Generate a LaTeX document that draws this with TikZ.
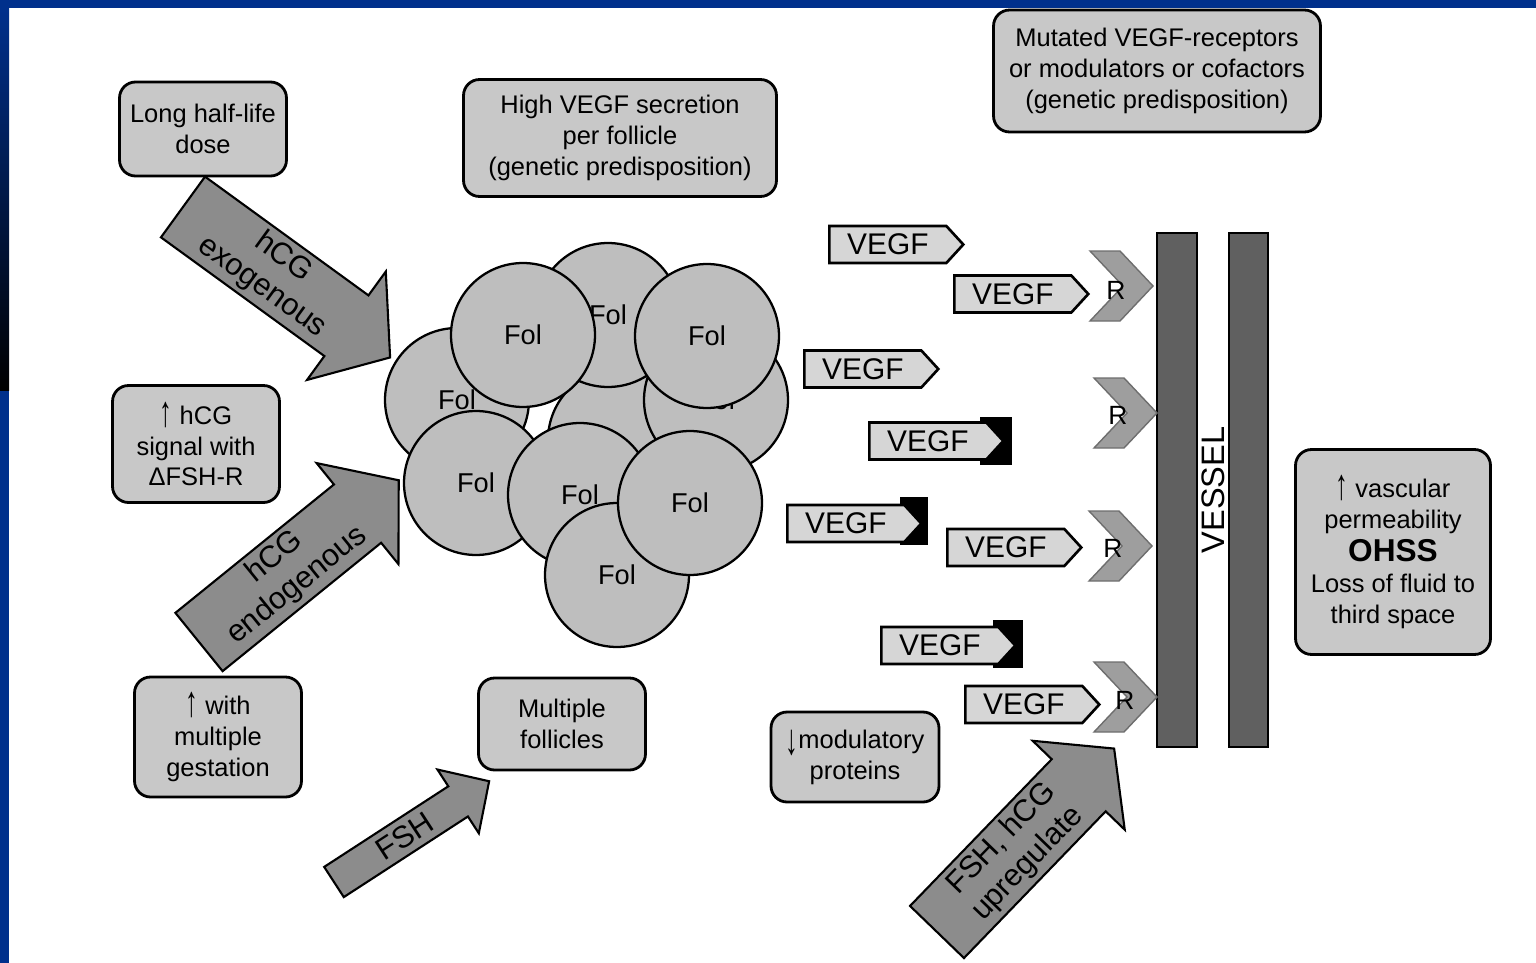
\documentclass[tikz,border=0pt]{standalone}
\usepackage{fontspec}
\setmainfont{Liberation Sans}
\usepackage{tikz}
\usetikzlibrary{shapes,shapes.symbols,positioning}

\definecolor{slideblue}{RGB}{0,48,140}
\definecolor{boxgray}{RGB}{200,200,200}
\definecolor{folgray}{RGB}{190,190,190}
\definecolor{armgray}{RGB}{140,140,140}
\definecolor{vegfgray}{RGB}{214,214,214}
\definecolor{recgray}{RGB}{158,158,158}
\definecolor{recedge}{RGB}{110,110,110}
\definecolor{wallgray}{RGB}{96,96,96}

% tall thin up/down arrows as in the figure
\newcommand{\upar}{\raisebox{-0.15ex}{\scalebox{1}[1.7]{↑}}}
\newcommand{\downar}{\raisebox{-0.45ex}{\scalebox{1}[1.7]{↓}}}

% block arrow: name, base, angle, length, shaft half width, head half width, head length, text
\newcommand{\fatarrow}[8]{%
  \begin{scope}[shift={#2}, rotate=#3]
    \draw[fat] (0,#5) -- ({#4-#7},#5) -- ({#4-#7},#6) -- (#4,0) -- ({#4-#7},-#6) -- ({#4-#7},-#5) -- (0,-#5) -- cycle;
    \node[armtext, rotate=#3] (#1) at ({(#4-#7)/2+10},0) {#8};
  \end{scope}}

\begin{document}
\begin{tikzpicture}[x=0.02cm, y=-0.02cm]
  % styles
  \tikzstyle{factor}=[rectangle, rounded corners=0.32cm, draw=black, fill=boxgray, line width=1.6pt, align=center, inner sep=2pt, font=\fontsize{14.5}{17.6}\selectfont]
  \tikzstyle{follicle}=[circle, draw=black, fill=folgray, line width=1.3pt, minimum size=2.88cm, inner sep=0pt, font=\fontsize{15.5}{16}\selectfont]
  \tikzstyle{vegf}=[signal, signal to=east, signal pointer angle=95, draw=black, fill=vegfgray, line width=1.5pt, minimum width=2.68cm, minimum height=0.74cm, inner sep=0pt, anchor=west, font=\fontsize{17}{17}\selectfont]
  \tikzstyle{tipblock}=[fill=black]
  \tikzstyle{receptor}=[draw=recedge, fill=recgray, line width=0.8pt, line join=miter]
  \tikzstyle{rlabel}=[inner sep=0pt, font=\fontsize{15}{15}\selectfont]
  \tikzstyle{wall}=[rectangle, draw=black, fill=wallgray, line width=1.2pt, minimum height=10.28cm, inner sep=0pt]
  \tikzstyle{fat}=[draw=black, fill=armgray, line width=1.2pt, line join=miter]
  \tikzstyle{armtext}=[align=center, inner sep=0pt, font=\fontsize{17.5}{20.5}\selectfont]

  \useasboundingbox (0,0) rectangle (1536,963);
  \fill[white] (0,0) rectangle (1536,963);
  \fill[slideblue] (0,0) rectangle (1536,8);
  \fill[slideblue] (0,0) rectangle (9,963);
  \shade[top color=slideblue, bottom color=black] (0,8) rectangle (9,390);

  % factors
  \node[factor, minimum width=3.34cm, minimum height=1.88cm] (halflife) at (203,129) {Long half-life\\dose};
  \node[factor, minimum width=6.26cm, minimum height=2.34cm] (secretion) at (620,138) {High VEGF secretion\\per follicle\\(genetic predisposition)};
  \node[factor, minimum width=6.54cm, minimum height=2.44cm] (mutated) at (1157,71) {Mutated VEGF-receptors\\or modulators or cofactors\\(genetic predisposition)};
  \node[factor, minimum width=3.34cm, minimum height=2.34cm] (signal) at (196,444) {\upar\ hCG\\signal with\\ΔFSH-R};
  \node[factor, minimum width=3.34cm, minimum height=2.40cm] (gestation) at (218,737) {\upar\ with\\multiple\\gestation};
  \node[factor, minimum width=3.34cm, minimum height=1.84cm] (multiple) at (562,724) {Multiple\\follicles};
  \node[factor, minimum width=3.36cm, minimum height=1.80cm] (modulatory) at (855,757) {\downar modulatory\\proteins};
  \node[factor, minimum width=3.90cm, minimum height=4.10cm] (ohss) at (1393,552) {\upar\ vascular\\permeability\\[1pt]{\fontsize{18}{20}\selectfont\bfseries OHSS}\\Loss of fluid to\\third space};

  % follicles, back to front
  \node[follicle] (folD) at (620,440) {};
  \node[follicle] (folA) at (608,315) {Fol};
  \node[follicle] (folB) at (457,400) {Fol};
  \node[follicle] (folC) at (716,400) {Fol};
  \node[follicle] (folE) at (523,335) {Fol};
  \node[follicle] (folF) at (707,336) {Fol};
  \node[follicle] (folG) at (476,483) {Fol};
  \node[follicle] (folH) at (580,495) {Fol};
  \node[follicle] (folI) at (617,575) {Fol};
  \node[follicle] (folJ) at (690,503) {Fol};

  % hormones
  \fatarrow{exogenous}{(183,207)}{-36}{256}{37.5}{67}{54}{hCG\\exogenous}
  \fatarrow{endogenous}{(199,642)}{39}{257}{37.5}{65}{53}{hCG\\endogenous}
  \fatarrow{fsh}{(334,882)}{33}{185}{18}{38}{37}{FSH}
  \fatarrow{upregulate}{(937,932)}{46}{255}{37.5}{64}{51}{FSH, hCG\\upregulate}

  % vessel
  \node[wall, minimum width=0.80cm] (wallL) at (1177,490) {};
  \node[wall, minimum width=0.78cm] (wallR) at (1248.5,490) {};
  \node[rotate=90, inner sep=0pt, font=\fontsize{18.5}{19}\selectfont] (vessel) at (1213,490) {VESSEL};

  % receptors
  \foreach \tx/\ty in {1153/286, 1157/413, 1152/546, 1157/697} {
    \draw[receptor] (\tx-63,\ty-35) -- (\tx-33,\ty-35) -- (\tx,\ty) -- (\tx-33,\ty+35) -- (\tx-63,\ty+35) -- (\tx-30,\ty) -- cycle;
  }
  \node[rlabel] (recA) at (1116,290) {R};
  \node[rlabel] (recB) at (1118,415) {R};
  \node[rlabel] (recC) at (1113,548) {R};
  \node[rlabel] (recD) at (1125,700) {R};

  % secreted VEGF
  \fill[tipblock] (980,417) rectangle (1012,465);
  \fill[tipblock] (900,497) rectangle (928,545);
  \fill[tipblock] (993,620) rectangle (1023,668);
  \node[vegf] (vegfA) at (828,244.5) {VEGF};
  \node[vegf] (vegfB) at (953,294) {VEGF};
  \node[vegf] (vegfC) at (803,369) {VEGF};
  \node[vegf] (vegfD) at (868,441) {VEGF};
  \node[vegf] (vegfE) at (786,523.5) {VEGF};
  \node[vegf] (vegfF) at (946,547.5) {VEGF};
  \node[vegf] (vegfG) at (880,645.5) {VEGF};
  \node[vegf] (vegfH) at (964,704.5) {VEGF};
\end{tikzpicture}
\end{document}
